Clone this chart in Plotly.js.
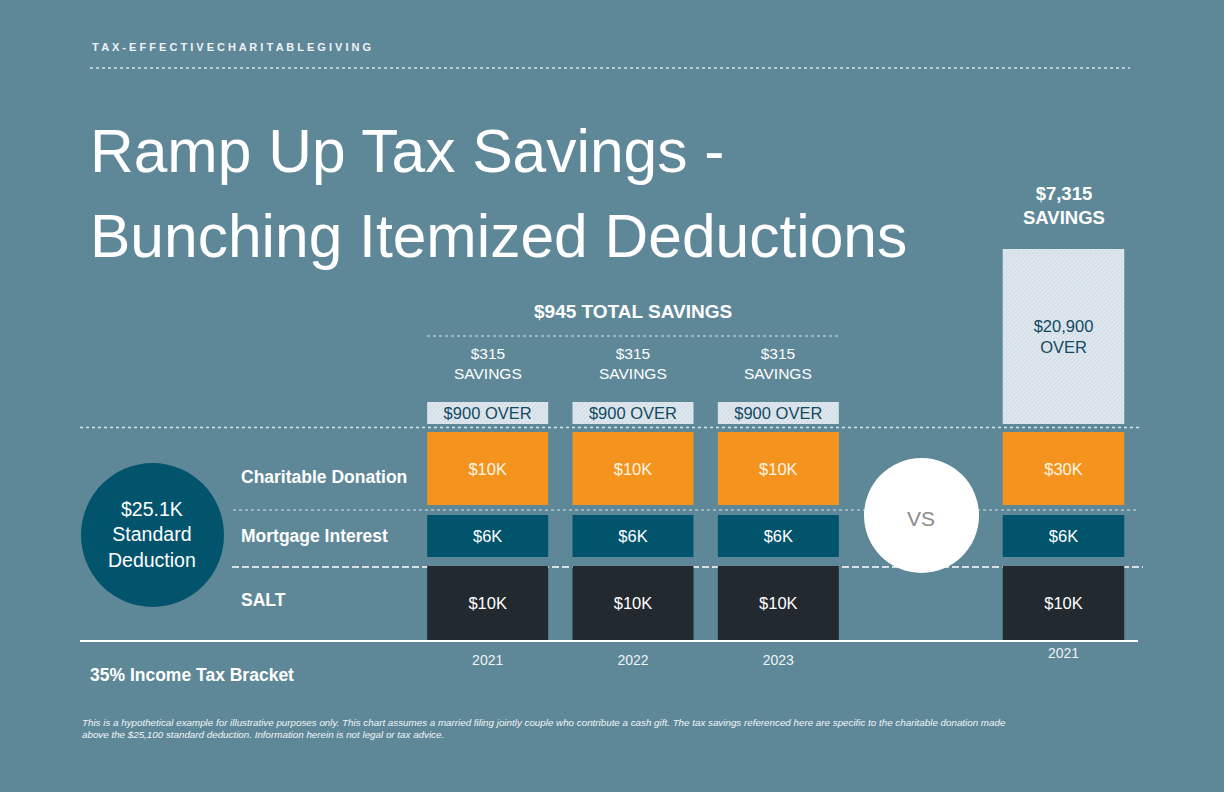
<!DOCTYPE html>
<html>
<head>
<meta charset="utf-8">
<script src="https://cdn.plot.ly/plotly-3.0.1.min.js"></script>
<style>
  html, body { margin: 0; padding: 0; background: #5e8898; }
  #chart { width: 1224px; height: 792px; }
</style>
</head>
<body>
<div id="chart"></div>
<script>
"use strict";

/******************************** Data *********************************/

var years = ['2021', '2022', '2023'];          // giving every year
var salt = [10, 10, 10];                       // $K
var mortgage = [6, 6, 6];                      // $K
var charity = [10, 10, 10];                    // $K
var overStd = [900, 900, 900];                 // $ above standard deduction
var savings = [315, 315, 315];                 // $ tax saved

var bunchYears = ['2021'];                     // bunched into one year
var bunchSalt = [10];
var bunchMortgage = [6];
var bunchCharity = [30];
var bunchOver = [20900];
var bunchSavings = [7315];

var stdDeduction = 25.1;                       // $K
var taxBracket = 35;                           // %

/******************************** Helpers *********************************/

var W = 1224, H = 792;
function px(p) { return p / W; }
function py(p) { return 1 - p / H; }
function money(v) { return '$' + v.toLocaleString('en-US'); }
function maxOf(a) { return Math.max.apply(null, a); }

var FONT = 'Liberation Sans, Arial, sans-serif';
var BG = '#5e8898';

function seg(x, y, xa, ya, color, labels, txtColor, hatched) {
  var marker = { color: color, line: { width: 0 } };
  if (hatched) {
    marker.pattern = { shape: '/', bgcolor: '#e0e8ef', fgcolor: '#cdd8e1', size: 3, solidity: 0.3 };
  }
  return {
    type: 'bar', x: x, y: y, xaxis: xa, yaxis: ya,
    marker: marker,
    text: labels, textposition: 'inside', insidetextanchor: 'middle',
    constraintext: 'none', textangle: 0,
    textfont: { family: FONT, size: 16.5, color: txtColor },
    hoverinfo: 'skip', showlegend: false
  };
}

function k(a) { return a.map(function (v) { return '$' + v + 'K'; }); }

/******************************** Traces *********************************/

var data = [
  // yearly giving (left block)
  seg(years, salt, 'x', 'y', '#22292f', k(salt), '#ffffff'),
  seg(years, mortgage, 'x', 'y2', '#02536c', k(mortgage), '#ffffff'),
  seg(years, charity, 'x', 'y3', '#f4941f', k(charity), '#fff6e6'),
  seg(years, overStd, 'x', 'y4', '#e0e8ef', overStd.map(function (v) { return money(v) + ' OVER'; }), '#124a62', true),
  // bunched giving (right block)
  seg(bunchYears, bunchSalt, 'x2', 'y5', '#22292f', k(bunchSalt), '#ffffff'),
  seg(bunchYears, bunchMortgage, 'x2', 'y6', '#02536c', k(bunchMortgage), '#ffffff'),
  seg(bunchYears, bunchCharity, 'x2', 'y7', '#f4941f', k(bunchCharity), '#fff6e6'),
  seg(bunchYears, bunchOver, 'x2', 'y8', '#e0e8ef', bunchOver.map(function (v) { return money(v) + '<br>OVER'; }), '#124a62', true)
];

/******************************** Layout *********************************/

function yax(top, bottom, vals, anchor) {
  return { domain: [py(bottom), py(top)], range: [0, maxOf(vals)], visible: false, anchor: anchor, fixedrange: true };
}

function xax(left, right, anchor, standoff, cats) {
  return {
    domain: [px(left), px(right)], anchor: anchor, type: 'category',
    range: [-0.5, cats.length - 0.5],
    showgrid: false, zeroline: false, showline: false, ticks: '',
    ticklabelstandoff: standoff,
    tickfont: { family: 'Liberation Sans Narrow, Arial Narrow, sans-serif', size: 14, color: '#eef3f5' },
    fixedrange: true
  };
}

function note(x, y, text, size, opts) {
  var a = {
    x: x, y: y, xref: 'paper', yref: 'paper', text: text, showarrow: false,
    xanchor: 'center', yanchor: 'middle',
    font: { family: FONT, size: size, color: '#ffffff' }
  };
  for (var key in (opts || {})) {
    if (key === 'font') { for (var f in opts.font) a.font[f] = opts.font[f]; }
    else a[key] = opts[key];
  }
  return a;
}

function hline(x0, x1, y, dash, width, color) {
  return {
    type: 'line', xref: 'paper', yref: 'paper', layer: 'below',
    x0: px(x0), x1: px(x1), y0: py(y), y1: py(y),
    line: { color: color || '#d6e2e8', width: width, dash: dash }
  };
}

var totalSavings = savings.reduce(function (s, v) { return s + v; }, 0);

var annotations = [
  note(px(90), py(47), 'T A X - E F F E C T I V E C H A R I T A B L E G I V I N G', 11,
    { xanchor: 'left', font: { weight: 'bold', color: '#eef3f5' } }),
  note(px(88), py(151), 'Ramp Up Tax Savings -', 60.5, { xanchor: 'left' }),
  note(px(88), py(236), 'Bunching Itemized Deductions', 60.5, { xanchor: 'left' }),
  note(px(633), py(311), money(totalSavings) + ' TOTAL SAVINGS', 19, { font: { weight: 'bold' } }),
  note(px(239), py(477), 'Charitable Donation', 17.5, { xanchor: 'left', font: { weight: 'bold' } }),
  note(px(239), py(536), 'Mortgage Interest', 17.5, { xanchor: 'left', font: { weight: 'bold' } }),
  note(px(239), py(600), 'SALT', 17.5, { xanchor: 'left', font: { weight: 'bold' } }),
  note(px(152), py(534), '$' + stdDeduction + 'K<br>Standard<br>Deduction', 19.5),
  note(px(921), py(518), 'VS', 21, { font: { color: '#8c8c8c' } }),
  note(px(88), py(675), taxBracket + '% Income Tax Bracket', 17.5, { xanchor: 'left', font: { weight: 'bold' } }),
  note(px(80), py(722), 'This is a hypothetical example for illustrative purposes only. This chart assumes a married filing jointly couple who contribute a cash gift. The tax savings referenced here are specific to the charitable donation made',
    9.8, { xanchor: 'left', font: { style: 'italic', color: '#f2f5f7' } }),
  note(px(80), py(734), 'above the $25,100 standard deduction. Information herein is not legal or tax advice.',
    9.8, { xanchor: 'left', font: { style: 'italic', color: '#f2f5f7' } })
];

// savings labels sit over their bars (category index on the bar axis)
years.forEach(function (yr, i) {
  var a = note(i, py(364), money(savings[i]) + '<br>SAVINGS', 15.5);
  a.xref = 'x';
  annotations.push(a);
});
bunchYears.forEach(function (yr, i) {
  var a = note(i, py(205), money(bunchSavings[i]) + '<br>SAVINGS', 18.5, { font: { weight: 'bold' } });
  a.xref = 'x2';
  annotations.push(a);
});

var shapes = [
  hline(90, 1130, 68, 'dot', 1.5),
  hline(427, 838, 336, 'dot', 1.2),
  hline(80, 1140, 427.5, 'dot', 1.5),
  hline(233, 1138, 510, 'dot', 1.2),
  hline(232, 1143, 567, '7px,3px', 2),
  hline(80, 1138, 641, 'solid', 2, '#ffffff'),
  { type: 'circle', xref: 'paper', yref: 'paper', layer: 'below',
    x0: px(81), x1: px(224), y0: py(607), y1: py(463),
    fillcolor: '#02536c', line: { width: 0 } },
  { type: 'circle', xref: 'paper', yref: 'paper', layer: 'above',
    x0: px(864), x1: px(979), y0: py(573), y1: py(458),
    fillcolor: '#ffffff', line: { width: 0 } }
];

var layout = {
  width: W, height: H,
  margin: { l: 0, r: 0, t: 0, b: 0 },
  paper_bgcolor: BG, plot_bgcolor: 'rgba(0,0,0,0)',
  font: { family: FONT, color: '#ffffff' },
  bargap: 0.1674,
  hovermode: false,
  showlegend: false,
  xaxis: xax(415, 851, 'y', 10, years),
  xaxis2: xax(990.5, 1136.5, 'y5', 3, bunchYears),
  yaxis: yax(566, 640, salt, 'x'),
  yaxis2: yax(515, 557, mortgage, 'x'),
  yaxis3: yax(432, 505, charity, 'x'),
  yaxis4: yax(402, 424, overStd, 'x'),
  yaxis5: yax(566, 640, bunchSalt, 'x2'),
  yaxis6: yax(515, 557, bunchMortgage, 'x2'),
  yaxis7: yax(432, 505, bunchCharity, 'x2'),
  yaxis8: yax(249, 424, bunchOver, 'x2'),
  annotations: annotations,
  shapes: shapes
};

Plotly.newPlot('chart', data, layout, { displayModeBar: false, staticPlot: true });   /****** plot graph ******/
</script>
</body>
</html>
